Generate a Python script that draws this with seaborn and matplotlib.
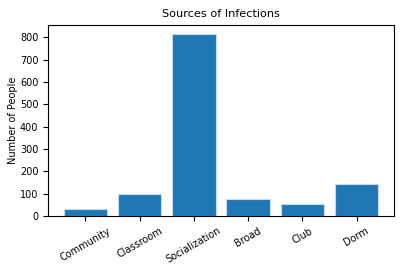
import matplotlib

matplotlib.use("Agg")
import matplotlib.pyplot as plt
import pandas as pd
import seaborn as sns

# Values
sources = ["Community", "Classroom", "Socialization", "Broad", "Club", "Dorm"]
people = [32, 97, 816, 77, 53, 144]

df = pd.DataFrame({"source": sources, "people": people})

plt.rcParams["font.size"] = 7

fig, ax = plt.subplots(figsize=(4.07, 2.71), dpi=100)
sns.barplot(data=df, x="source", y="people", color="#1f77b4", saturation=1,
            edgecolor="#c6dbef", linewidth=0.8, width=0.8, ax=ax)

ax.set_title("Sources of Infections", fontsize=8.1)
ax.set_xlabel("")
ax.set_ylabel("Number of People", labelpad=1.5)
ax.set_yticks(range(0, 801, 100))
ax.set_ylim(0, 856)
# matplotlib-style 5% margins around the bars
ax.set_xlim(-0.69, len(sources) - 0.31)
ax.tick_params(axis="x", rotation=30)
fig.subplots_adjust(left=0.118, right=0.968, top=0.908, bottom=0.203)

fig.savefig("out.png", dpi=100)
